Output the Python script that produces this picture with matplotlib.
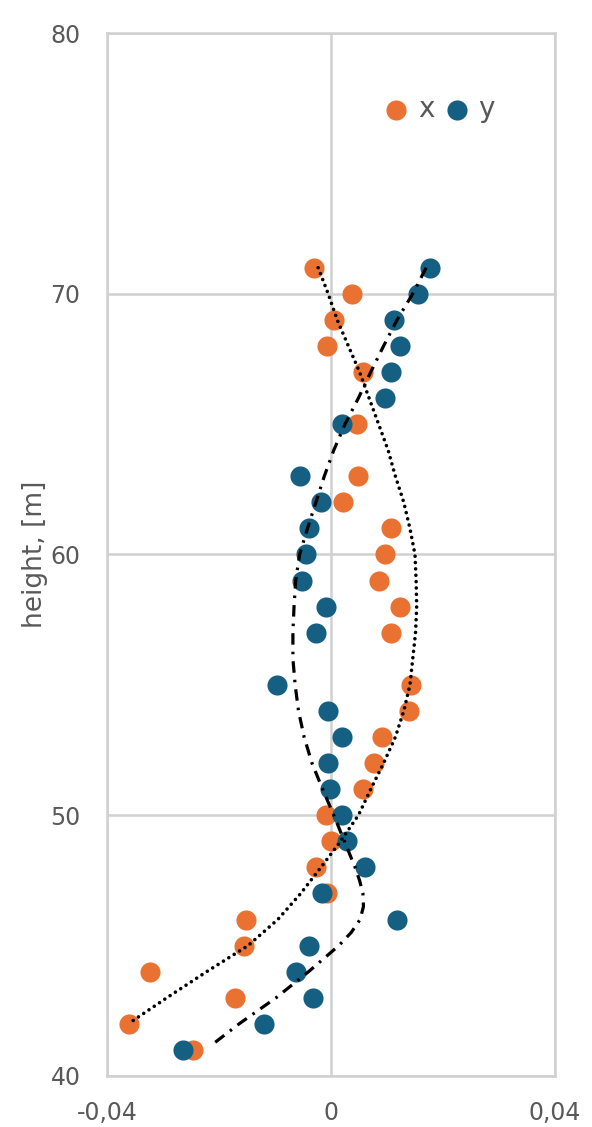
import matplotlib.pyplot as plt

# measured displacements along the height
h_x = [71, 70, 69, 68, 67, 65, 63, 62, 61, 60, 59, 58, 57, 55, 54, 53, 52,
       51, 50, 49, 48, 47, 46, 45, 44, 43, 42, 41]
x = [-0.0030, 0.0037, 0.0005, -0.0007, 0.0057, 0.0046, 0.0048, 0.0021,
     0.0108, 0.0096, 0.0085, 0.0124, 0.0108, 0.0142, 0.0139, 0.0091, 0.0076,
     0.0057, -0.0009, 0.0000, -0.0027, -0.0007, -0.0151, -0.0155, -0.0324,
     -0.0172, -0.0361, -0.0247]

h_y = [71, 70, 69, 68, 67, 66, 65, 63, 62, 61, 60, 59, 58, 57, 55, 54, 53,
       52, 51, 50, 49, 48, 47, 46, 45, 44, 43, 42, 41]
y = [0.0176, 0.0155, 0.0112, 0.0124, 0.0108, 0.0096, 0.0020, -0.0055,
     -0.0018, -0.0039, -0.0044, -0.0052, -0.0009, -0.0027, -0.0096, -0.0005,
     0.0020, -0.0005, -0.0002, 0.0020, 0.0028, 0.0060, -0.0016, 0.0117,
     -0.0039, -0.0062, -0.0032, -0.0119, -0.0265]

# trend curves
trend_h_x = [71, 70, 69, 68, 67, 66, 65, 64, 63, 62, 61, 60, 59, 58, 57, 56,
             55, 54, 53, 52, 51, 50, 49, 48, 47, 46, 45, 44, 43, 42]
trend_x = [-0.0023, -0.0005, 0.0011, 0.0031, 0.0051, 0.0068, 0.0085, 0.0102,
           0.0115, 0.0130, 0.0141, 0.0150, 0.0152, 0.0153, 0.0151, 0.0146,
           0.0141, 0.0130, 0.0115, 0.0094, 0.0071, 0.0049, 0.0017, -0.0018,
           -0.0054, -0.0095, -0.0148, -0.0222, -0.0293, -0.0362]

trend_h_y = [71, 70, 69, 68, 67, 66, 65, 64, 63, 62, 61, 60, 59, 58, 57, 56,
             55, 54, 53, 52, 51, 50, 49, 48, 47.5, 47, 46.5, 46, 45.5, 45, 44,
             43, 42, 41.27]
trend_y = [0.0170, 0.0146, 0.0118, 0.0094, 0.0071, 0.0049, 0.0025, 0.0005,
           -0.0012, -0.0027, -0.0042, -0.0056, -0.0063, -0.0066, -0.0068,
           -0.0068, -0.0064, -0.0058, -0.0048, -0.0034, -0.0015, 0.0005,
           0.0024, 0.0043, 0.0051, 0.0057, 0.0058, 0.0052, 0.0036, 0.0014,
           -0.0040, -0.0098, -0.0164, -0.0208]

orange = "#E97132"
blue = "#156082"
grey = "#595959"
gridc = "#D0D0D0"

plt.rcParams["font.family"] = "DejaVu Sans"

fig = plt.figure(figsize=(5.92, 11.27), dpi=100)
ax = fig.add_axes([0.1807, 0.0453, 0.7568, 0.9254])

ax.scatter(x, h_x, s=210, color=orange, linewidths=0, label="x", zorder=2)
ax.scatter(y, h_y, s=210, color=blue, linewidths=0, label="y", zorder=2)

ax.plot(trend_x, trend_h_x, color="black", linestyle=(0, (0.01, 1.75)),
        linewidth=2.6, dash_capstyle="round", zorder=3)
ax.plot(trend_y, trend_h_y, color="black", linestyle=(0, (3.6, 2.2, 0.8, 2.2)),
        linewidth=2.3, zorder=3)

ax.set_xlim(-0.04, 0.04)
ax.set_ylim(40, 80)
ax.set_xticks([-0.04, 0, 0.04])
ax.set_xticklabels(["-0,04", "0", "0,04"])
ax.set_yticks([40, 50, 60, 70, 80])
ax.tick_params(length=0, labelsize=17, labelcolor=grey)
ax.tick_params(axis="x", pad=18)
ax.tick_params(axis="y", pad=19)
ax.grid(True, color=gridc, linewidth=1.8)
for s in ax.spines.values():
    s.set_color(gridc)
    s.set_linewidth(1.8)
ax.set_axisbelow(True)
ax.set_ylabel("height, [m]", fontsize=19, color=grey, labelpad=2)

ax.legend(loc="center right", bbox_to_anchor=(0.866, 0.927), ncol=2,
          frameon=False, fontsize=20, borderpad=0, borderaxespad=0,
          handlelength=1.0, handletextpad=0.29, columnspacing=0.3,
          labelcolor=grey)

fig.savefig("out.png", dpi=100)
